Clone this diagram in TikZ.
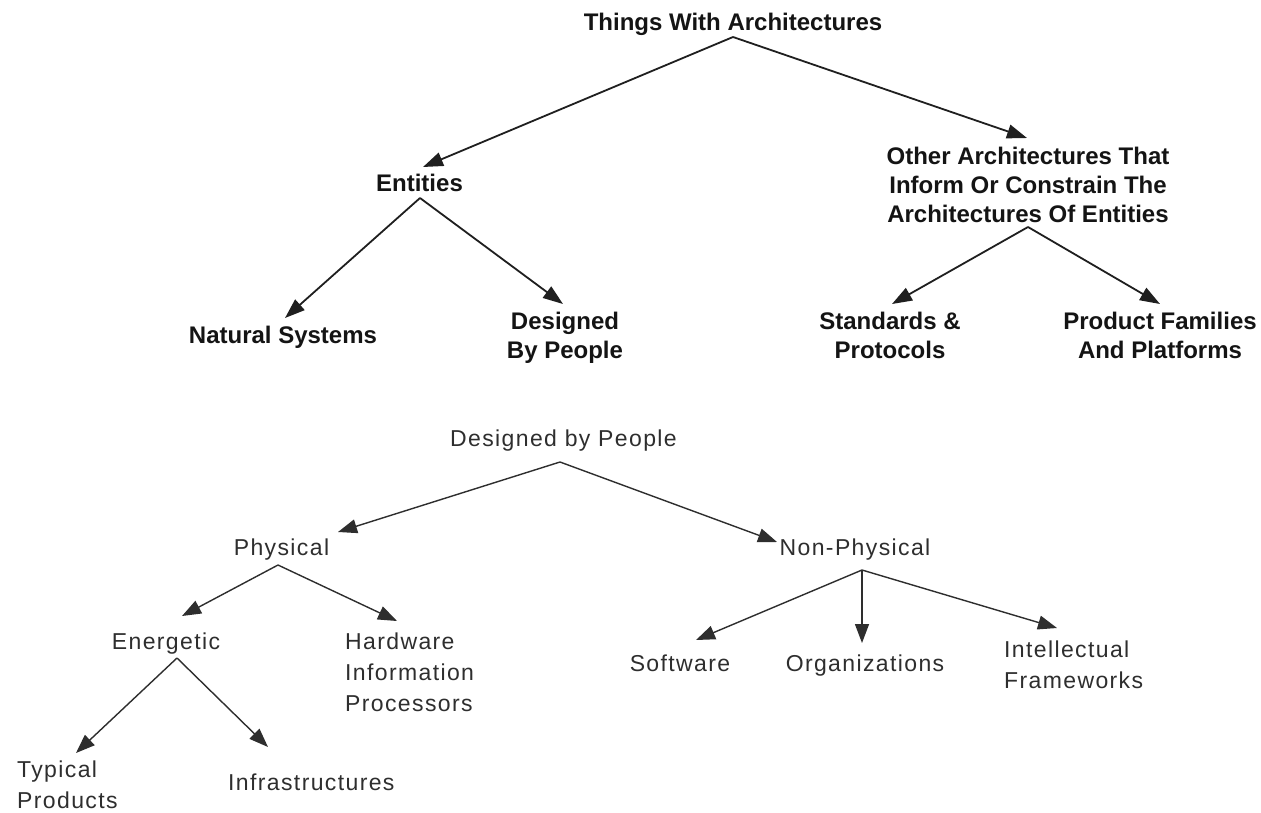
\documentclass[tikz,border=0pt]{standalone}
\usepackage{fontspec}
\setmainfont{Liberation Sans}
\newfontfamily\lowfont[LetterSpace=6]{Liberation Sans}
\usetikzlibrary{arrows.meta}
\begin{document}
\begin{tikzpicture}[x=1pt,y=-1pt,
  hi/.style={inner sep=0pt,font=\fontsize{24}{28.8}\selectfont\bfseries,text=black!92,align=center},
  lo/.style={inner sep=0pt,font=\lowfont\fontsize{23}{30.6}\selectfont,text=black!82},
  hiarr/.style={draw=black!88,line width=1.8pt,-{Triangle[length=20pt,width=14pt]}},
  loarr/.style={draw=black!82,line width=1.4pt,-{Triangle[length=19pt,width=14pt]}}]
\fill[white] (0,0) rectangle (1261,812);
\useasboundingbox (0,0) rectangle (1261,812);

% --- classification of things with architectures ---
\node[hi,anchor=north] (things) at (733,13) {Things With Architectures};
\node[hi,anchor=north] (entities) at (419.5,174) {Entities};
\node[hi,anchor=north] (other) at (1028,147) {Other Architectures That\\Inform Or Constrain The\\Architectures Of Entities};
\node[hi,anchor=north] (natural) at (283,326) {Natural Systems};
\node[hi,anchor=north] (designed) at (565,312) {Designed\\By People};
\node[hi,anchor=north] (standards) at (890,312) {Standards \&\\Protocols};
\node[hi,anchor=north] (product) at (1160,312) {Product Families\\And Platforms};

\draw[hiarr] ([shift={(0,24)}]things.north) -- ([shift={(3.5,-7)}]entities.north);
\draw[hiarr] ([shift={(0,24)}]things.north) -- ([shift={(-1,-9)}]other.north);
\draw[hiarr] ([shift={(0.5,24)}]entities.north) -- ([shift={(2,-8)}]natural.north);
\draw[hiarr] ([shift={(0.5,24)}]entities.north) -- ([shift={(-2,-8)}]designed.north);
\draw[hiarr] ([shift={(0,80)}]other.north) -- ([shift={(2,-8)}]standards.north);
\draw[hiarr] ([shift={(0,80)}]other.north) -- ([shift={(0,-8)}]product.north);

% --- things designed by people ---
\node[lo,anchor=north] (dbp) at (563.5,430) {Designed by People};
\node[lo,anchor=north] (phys) at (281.5,539) {Physical};
\node[lo,anchor=north] (nonphys) at (855,539) {Non-Physical};
\node[lo,anchor=north] (energetic) at (166,633) {Energetic};
\node[lo,anchor=north west,align=left] (hardware) at (345,633) {Hardware\\Information\\Processors};
\node[lo,anchor=north west,align=left] (typical) at (17,761) {Typical\\Products};
\node[lo,anchor=north west] (infra) at (228,774) {Infrastructures};
\node[lo,anchor=north] (software) at (680,655) {Software};
\node[lo,anchor=north] (org) at (865,655) {Organizations};
\node[lo,anchor=north west,align=left] (intel) at (1004,641) {Intellectual\\Frameworks};

\draw[loarr] ([shift={(-3.5,32)}]dbp.north) -- ([shift={(56.5,-7)}]phys.north);
\draw[loarr] ([shift={(-3.5,32)}]dbp.north) -- ([shift={(-78,3)}]nonphys.north);
\draw[loarr] ([shift={(-3.5,26)}]phys.north) -- ([shift={(16,-17)}]energetic.north);
\draw[loarr] ([shift={(-3.5,26)}]phys.north) -- ([shift={(52,-12)}]hardware.north west);
\draw[loarr] ([shift={(11,25)}]energetic.north) -- ([shift={(59,-8)}]typical.north west);
\draw[loarr] ([shift={(11,25)}]energetic.north) -- ([shift={(40,-27)}]infra.north west);
\draw[loarr] ([shift={(7,31)}]nonphys.north) -- ([shift={(16,-15)}]software.north);
\draw[loarr] ([shift={(7,31)}]nonphys.north) -- ([shift={(-3,-12)}]org.north);
\draw[loarr] ([shift={(7,31)}]nonphys.north) -- ([shift={(53,-13)}]intel.north west);
\end{tikzpicture}
\end{document}
